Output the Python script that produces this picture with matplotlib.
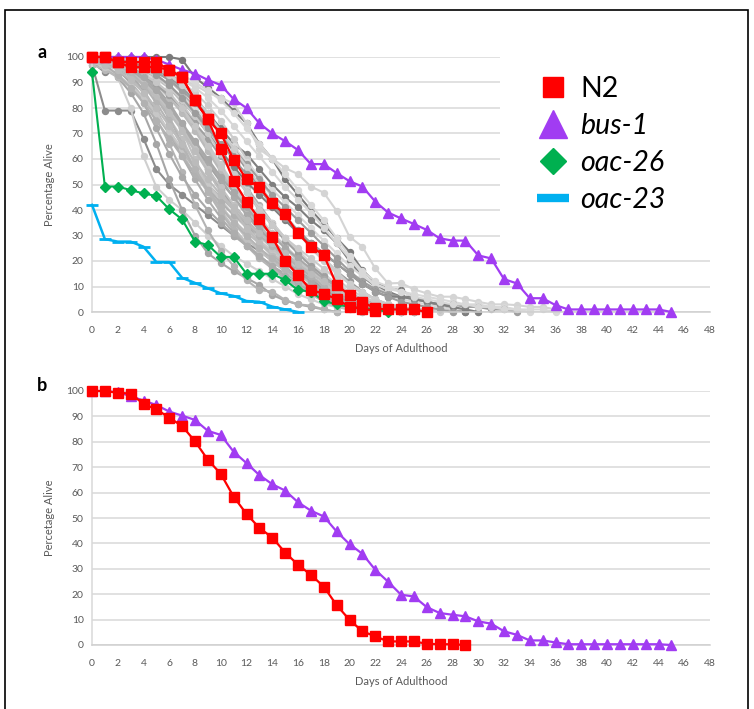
import matplotlib
matplotlib.use('Agg')
import matplotlib.pyplot as plt
from matplotlib.lines import Line2D
from matplotlib.patches import Rectangle

plt.rcParams['font.family'] = ['Lato', 'DejaVu Sans']

# ---------------- data ----------------
x_ticks = list(range(0, 49, 2))
y_ticks = list(range(0, 101, 10))
x_label = "Days of Adulthood"
y_label_a = "Percentage Alive"
y_label_b = "Percetage Alive"
legend_labels = ["N2", "bus-1", "oac-26", "oac-23"]

# panel a: coloured strains (values for day 0, 1, 2, ...)
n2_a_late = [100, 100, 98, 98, 98, 98, 95, 92, 83, 75.6, 70, 59.8, 52, 49, 42.6, 38.3,
             30.8, 25.6, 22.4, 10.6, 6.7, 4, 1.4, 1, 1, 1, 0]
n2_a_early = [100, 100, 98, 96, 96, 96, 95, 92, 83, 75.6, 63.8, 51.5, 43.3, 36.5, 29.4,
              20, 14.5, 8.6, 7.2, 5, 2.1, 1.2, 0.5]
bus1_a = [100, 100, 100, 100, 100, 99, 97, 95, 93.5, 91, 89, 83.5, 80, 74, 70, 67, 63.5,
          58, 58, 54.5, 51.3, 49.2, 43.3, 39, 36.7, 34.5, 32.2, 28.9, 28, 28, 22.2, 21,
          12.9, 11.2, 5.4, 5.4, 2.7, 1, 1, 1, 1, 1, 1, 1, 1, 0]
oac26_a = [94, 49.2, 49.2, 47.8, 46.5, 45.5, 40.3, 36.3, 27.6, 26.3, 21.6, 21.6, 15, 15,
           15, 12.5, 8.6, 8, 4.3, 3, 2, 1.5, 1, 0]
oac23_a = [42, 28.6, 27.6, 27.6, 25.6, 19.6, 19.6, 13.4, 11.4, 9.3, 7.3, 6.3, 4.3, 4,
           2.1, 1, 0]

# panel a: grey individual trials
gray_01 = [100, 100, 100, 100, 100, 100, 100, 99, 92, 88, 84, 79, 74, 66, 60, 52, 46, 40,
           34.5, 29, 23.7, 16.5, 11.5, 9.3, 8.5, 6, 4, 3, 2, 0]
gray_02 = [100, 99, 98, 97, 96, 95, 93, 91, 89, 86, 84, 81.8, 74, 63.8, 60.3, 56.4, 54.1,
           49.2, 46.8, 39.7, 29.5, 25.6, 17.1, 11.2, 11.4, 8.9, 7.3, 6, 6, 5, 4, 3, 3,
           2.7, 2, 2, 1]
gray_03 = [100, 99, 99, 98, 97, 96, 94, 90, 84, 78, 72, 66, 62, 56, 50, 45, 41, 36, 32,
           27, 20, 14, 10, 8, 6, 6, 4, 2, 1, 0]
gray_04 = [97, 79, 79, 79, 68, 56, 50, 46, 42, 38, 34, 30, 27, 24, 20, 16, 12, 9, 6, 4,
           2, 1, 0]
gray_05 = [98, 94, 94, 93, 90, 86, 80, 72, 64, 56, 48, 42, 36, 30, 25, 20, 16, 12, 8, 5,
           3, 1, 0]
gray_06 = [99, 97, 92, 80, 61, 49, 44, 40, 35, 30, 26, 22, 19, 16, 13, 10, 7, 5, 3, 2, 1, 0]
gray_07 = [98, 96, 92, 86, 78, 66, 52, 40, 30, 23, 19.3, 16, 13.3, 10.6, 6.7, 4.5, 3, 2,
           1, 0]
gray_08 = [99, 98, 95, 90, 84, 76, 66, 55, 42, 32, 24, 18, 12.5, 8.6, 8, 4.7, 3, 2.5, 1, 0]
gray_09 = [100, 99, 97, 94, 90, 84, 76, 68, 58, 48, 40, 33, 27, 22, 18, 14, 10, 7, 4, 2,
           1, 0]
gray_10 = [100, 100, 98, 96, 93, 88, 82, 74, 65, 56, 48, 40, 34, 28, 23, 18, 13, 9, 6,
           4, 2, 1, 0]
gray_11 = [100, 99, 98, 97, 95, 92, 88, 82, 74, 66, 58, 50, 43, 37, 31, 26, 21, 16, 12,
           8, 5, 3, 1, 0]
gray_12 = [100, 100, 99, 98, 96, 94, 91, 86, 80, 72, 64, 56, 49, 42, 35, 29, 24, 19, 14,
           10, 6, 3, 2, 1, 0]
gray_13 = [99, 98, 96, 92, 86, 78, 70, 62, 54, 47, 41, 36, 31, 27, 23, 19, 15, 11, 8, 5,
           3, 1, 0]
gray_14 = [100, 98, 95, 90, 82, 72, 62, 53, 46, 40, 35, 30, 26, 22, 18, 15, 12, 9, 6, 4,
           2, 1, 0]
gray_15 = [100, 100, 99, 97, 94, 90, 85, 79, 72, 64, 56, 48, 41, 34, 28, 23, 18, 14, 10,
           7, 4, 2, 1, 1, 0]
gray_16 = [98, 97, 96, 94, 90, 84, 76, 66, 56, 47, 39, 32, 26, 21, 17, 13, 10, 7, 5, 3,
           2, 1, 0]
gray_17 = [100, 99, 99, 98, 96, 93, 89, 84, 78, 71, 63, 55, 48, 41, 35, 29, 24, 19, 15,
           11, 8, 5, 3, 2, 1, 0]
gray_18 = [100, 100, 100, 99, 97, 95, 92, 88, 83, 77, 70, 63, 56, 49, 43, 37, 31, 26, 21,
           16, 12, 8, 5, 3, 2, 1, 0]
gray_19 = [99, 98, 97, 95, 92, 87, 80, 71, 60, 50, 42, 35, 29, 24, 20, 16, 12, 9, 7, 5,
           3, 2, 1, 0]
gray_20 = [100, 99, 97, 93, 87, 79, 70, 61, 52, 44, 37, 31, 26, 22, 18, 14, 11, 8, 5, 3,
           2, 1, 0]
gray_21 = [100, 100, 99, 98, 97, 95, 93, 90, 86, 81, 75, 68, 60, 52, 45, 38, 32, 26, 21,
           16, 11, 7, 5, 3, 2, 1, 1, 0]
gray_22 = [97, 95, 92, 88, 83, 77, 70, 63, 56, 50, 45, 40, 35, 30, 25, 20, 16, 12, 9, 6,
           4, 2, 1, 0]
gray_23 = [100, 98, 96, 93, 89, 84, 78, 72, 65, 58, 51, 45, 39, 33, 27, 22, 17, 13, 9, 6,
           4, 2, 1, 0]
gray_24 = [100, 100, 99, 99, 98, 96, 94, 91, 88, 84, 79, 73, 67, 61, 55, 49, 44, 39, 33,
           27, 21, 15, 10, 7, 5, 4, 3, 2, 1, 1, 0]
gray_25 = [100, 99, 98, 96, 93, 89, 84, 78, 71, 63, 55, 47, 40, 34, 28, 23, 19, 15, 12,
           9, 6, 4, 2, 1, 0]
gray_26 = [98, 96, 93, 89, 84, 78, 71, 64, 57, 50, 44, 38, 33, 28, 24, 20, 17, 14, 11, 8,
           6, 4, 2, 1, 0]
gray_27 = [100, 100, 98, 95, 91, 86, 80, 73, 66, 59, 52, 45, 38, 32, 26, 21, 16, 12, 8,
           5, 3, 2, 1, 0]
gray_28 = [100, 99, 98, 96, 94, 91, 88, 84, 80, 75, 70, 65, 59, 53, 48, 43, 38, 33, 28,
           23, 18, 14, 11, 9, 8, 7, 6, 5, 4, 3, 3, 2, 2, 1, 1, 1, 0]
gray_29 = [100, 100, 99, 98, 96, 94, 91, 87, 82, 76, 70, 64, 58, 52, 46, 41, 36, 31, 26,
           21, 16, 12, 9, 7, 6, 5, 4, 3, 3, 2, 2, 1, 1, 0]
gray_30 = [99, 99, 97, 94, 90, 85, 79, 72, 64, 56, 49, 42, 36, 30, 25, 21, 17, 14, 11, 8,
           6, 4, 3, 2, 1, 0]
gray_31 = [100, 97, 93, 88, 82, 75, 68, 61, 54, 48, 43, 38, 34, 30, 26, 22, 18, 14, 10,
           7, 5, 3, 2, 1, 0]
gray_32 = [100, 100, 100, 99, 98, 96, 93, 89, 84, 78, 71, 64, 57, 50, 43, 37, 31, 25, 20,
           15, 11, 8, 5, 3, 2, 1, 1, 1, 0]
gray_33 = [100, 99, 98, 96, 93, 89, 85, 80, 74, 68, 61, 54, 47, 40, 34, 28, 23, 18, 14,
           10, 7, 5, 3, 2, 1, 1, 0]
gray_34 = [100, 100, 99, 97, 95, 92, 88, 83, 77, 70, 63, 57, 51, 46, 41, 36, 31, 27, 23,
           19, 15, 11, 8, 6, 6, 5, 4, 3, 2, 1, 0]
gray_35 = [100, 100, 99, 99, 98, 97, 95, 93, 90, 87, 83, 78, 72, 66, 60, 54, 48, 42, 36,
           29, 22, 16, 12, 10, 8, 6, 5, 4, 3, 3, 2, 2, 1, 1, 0]
gray_36 = [99, 98, 96, 93, 89, 84, 78, 71, 63, 55, 47, 40, 33, 27, 22, 17, 13, 10, 7, 5,
           3, 2, 1, 0]
gray_37 = [100, 99, 97, 94, 89, 82, 74, 65, 56, 48, 41, 35, 30, 25, 21, 17, 13, 10, 7, 5,
           3, 2, 1, 0]
gray_38 = [99, 98, 97, 95, 93, 90, 86, 80, 73, 65, 57, 49, 42, 36, 30, 25, 20, 16, 12, 9,
           6, 4, 2, 1, 0]
gray_39 = [100, 100, 98, 96, 92, 87, 81, 74, 67, 60, 53, 47, 41, 35, 30, 25, 21, 17, 13,
           10, 7, 5, 3, 2, 1, 0]
gray_40 = [98, 97, 95, 91, 86, 80, 73, 66, 59, 52, 46, 41, 36, 31, 27, 23, 19, 15, 12, 9,
           7, 5, 3, 2, 1, 0]
gray_41 = [100, 99, 99, 97, 95, 92, 88, 83, 77, 70, 62, 54, 47, 40, 34, 29, 25, 21, 17,
           13, 9, 6, 4, 3, 2, 1, 0]
gray_42 = [100, 100, 99, 98, 96, 93, 89, 84, 78, 72, 66, 60, 54, 48, 42, 37, 32, 27, 23,
           19, 15, 11, 8, 6, 4, 3, 2, 1, 0]

gray_lines = [gray_01, gray_02, gray_03, gray_04, gray_05, gray_06, gray_07, gray_08,
              gray_09, gray_10, gray_11, gray_12, gray_13, gray_14, gray_15, gray_16,
              gray_17, gray_18, gray_19, gray_20, gray_21, gray_22, gray_23, gray_24,
              gray_25, gray_26, gray_27, gray_28, gray_29, gray_30, gray_31, gray_32,
              gray_33, gray_34, gray_35, gray_36, gray_37, gray_38, gray_39, gray_40,
              gray_41, gray_42]
gray_colors = ['#7a7a7a', '#d4d4d4', '#7f7f7f', '#8c8c8c', '#8a8a8a', '#cfcfcf',
               '#a6a6a6', '#b3b3b3', '#bfbfbf', '#a6a6a6', '#c9c9c9', '#b0b0b0',
               '#bdbdbd', '#a9a9a9', '#c4c4c4', '#b5b5b5', '#d0d0d0', '#9a9a9a',
               '#c0c0c0', '#adadad', '#cccccc', '#b8b8b8', '#a3a3a3', '#d6d6d6',
               '#bababa', '#c7c7c7', '#aaaaaa', '#d9d9d9', '#9e9e9e', '#c2c2c2',
               '#b1b1b1', '#cdcdcd', '#a0a0a0', '#808080', '#d8d8d8', '#bcbcbc',
               '#b4b4b4', '#c6c6c6', '#a8a8a8', '#bbbbbb', '#cacaca', '#9c9c9c']

# panel b
n2_b = [100, 100, 99.3, 99, 94.9, 92.8, 89.5, 86.2, 80.2, 72.9, 67.4, 58.4, 51.6, 46.1,
        42.3, 36.4, 31.6, 27.6, 23, 15.7, 9.9, 5.4, 3.4, 1.4, 1.4, 1.4, 0.5, 0.3, 0.3, 0]
bus1_b = [100, 100, 99.5, 98, 96.2, 94.5, 91.9, 90.3, 88.6, 84.3, 82.7, 76.1, 71.6, 66.9,
          63.3, 60.8, 56.2, 52.9, 50.6, 44.7, 39.7, 35.9, 29.6, 24.9, 19.8, 19.1, 14.9,
          12.6, 11.9, 11.3, 9.3, 8.4, 5.4, 4, 1.8, 1.8, 1, 0.3, 0.3, 0.3, 0.3, 0.3, 0.3,
          0.3, 0.3, 0]

RED = '#ff0000'
PURPLE = '#a13cf2'
GREEN = '#00b050'
BLUE = '#00b0f0'
TICK_COLOR = '#595959'
GRID = '#d9d9d9'

W, H = 754, 709
fig = plt.figure(figsize=(W / 100, H / 100), dpi=100)


def style_axes(ax, ylab):
    ax.set_xlim(0, 48)
    ax.set_ylim(0, 100)
    ax.set_xticks(x_ticks)
    ax.set_yticks(y_ticks)
    ax.yaxis.grid(True, color=GRID, linewidth=1.1)
    ax.xaxis.grid(False)
    ax.set_axisbelow(True)
    for s in ['top', 'right']:
        ax.spines[s].set_visible(False)
    ax.spines['left'].set_color(GRID)
    ax.spines['bottom'].set_color('#cfcfcf')
    ax.spines['left'].set_linewidth(1.1)
    ax.spines['bottom'].set_linewidth(1.1)
    ax.tick_params(length=0, labelsize=7.5, labelcolor=TICK_COLOR)
    ax.tick_params(axis='x', pad=10)
    ax.tick_params(axis='y', pad=6)
    ax.set_xlabel(x_label, fontsize=8, color=TICK_COLOR, labelpad=6)
    ax.set_ylabel(ylab, fontsize=8, color=TICK_COLOR, labelpad=8)


def series(ax, vals, **kw):
    ax.plot(list(range(len(vals))), vals, clip_on=False, **kw)


# ---------------- panel a ----------------
ax_a = fig.add_axes([92 / W, 1 - 312 / H, 618 / W, 255 / H])
style_axes(ax_a, y_label_a)

# white box behind the legend (hides upper gridlines)
ax_a.add_patch(Rectangle((0.66, 0.275), 0.36, 0.76, transform=ax_a.transAxes,
                         facecolor='white', edgecolor='none', zorder=0.9, clip_on=False))

for vals, col in zip(gray_lines, gray_colors):
    series(ax_a, vals, color=col, lw=1.5, marker='o', ms=4.3, mec=col, mfc=col, zorder=2)

series(ax_a, oac23_a, color=BLUE, lw=1.8, marker='_', ms=8, mew=2, zorder=3)
series(ax_a, oac26_a, color=GREEN, lw=1.5, marker='D', ms=5, mec=GREEN, mfc=GREEN, zorder=3)
series(ax_a, bus1_a, color=PURPLE, lw=1.6, marker='^', ms=7, mec=PURPLE, mfc=PURPLE, zorder=4)
series(ax_a, n2_a_early, color=RED, lw=1.6, marker='s', ms=7.2, mec=RED, mfc=RED, zorder=5)
series(ax_a, n2_a_late, color=RED, lw=1.6, marker='s', ms=7.2, mec=RED, mfc=RED, zorder=5)

handles = [
    Line2D([], [], linestyle='none', marker='s', ms=14.4, color=RED),
    Line2D([], [], linestyle='none', marker='^', ms=20, color=PURPLE),
    Line2D([], [], linestyle='none', marker='D', ms=13.5, color=GREEN),
    Line2D([], [], linestyle='-', lw=6, color=BLUE, solid_capstyle='butt'),
]
leg = ax_a.legend(handles, legend_labels, loc='upper left',
                  bbox_to_anchor=(523 / W, 1 - 62 / H), bbox_transform=fig.transFigure,
                  frameon=False, fontsize=20.5, handlelength=1.1, handletextpad=0.4,
                  labelspacing=0.38, borderpad=0)
for i, t in enumerate(leg.get_texts()):
    t.set_color('black')
    if i > 0:
        t.set_style('italic')

# ---------------- panel b ----------------
ax_b = fig.add_axes([92 / W, 1 - 645 / H, 618 / W, 254 / H])
style_axes(ax_b, y_label_b)
series(ax_b, bus1_b, color=PURPLE, lw=1.6, marker='^', ms=7, mec=PURPLE, mfc=PURPLE, zorder=4)
series(ax_b, n2_b, color=RED, lw=1.6, marker='s', ms=7.2, mec=RED, mfc=RED, zorder=5)

# panel letters
fig.text(42 / W, 1 - 52 / H, 'a', fontsize=13, fontweight='bold', ha='center', va='center')
fig.text(42 / W, 1 - 385 / H, 'b', fontsize=13, fontweight='bold', ha='center', va='center')

# outer frame
fig.add_artist(Rectangle((5 / W, -0.05), 743 / W, 1 - 10 / H + 0.05,
                         transform=fig.transFigure, fill=False, edgecolor='black', lw=1.2))

fig.savefig('out.png', dpi=100)
